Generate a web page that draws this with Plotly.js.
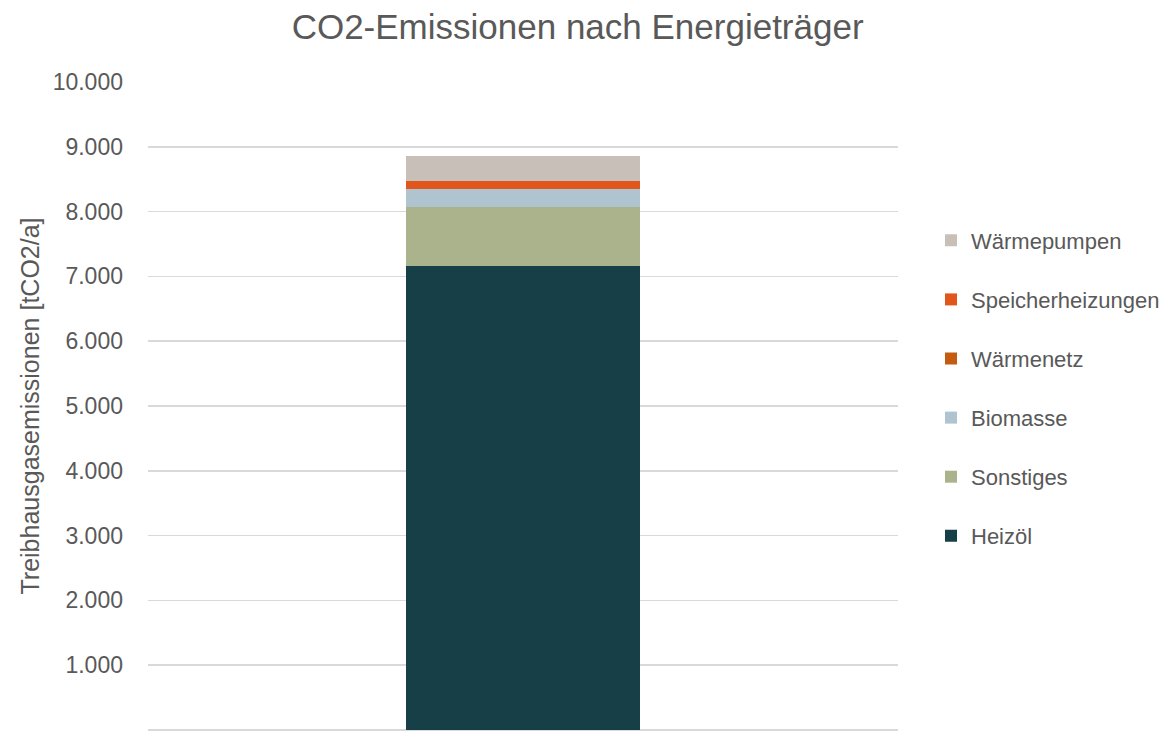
<!DOCTYPE html>
<html><head><meta charset="utf-8">
<script src="https://cdn.plot.ly/plotly-3.0.1.min.js"></script>
<style>html,body{margin:0;padding:0;background:#fff}#chart{width:1174px;height:731px}</style>
</head><body><div id="chart"></div>
<script>
const categories = ["Gesamt"];
const seriesNames = ["Heizöl", "Sonstiges", "Biomasse", "Wärmenetz", "Speicherheizungen", "Wärmepumpen"];
const heizoel = [7160];
const sonstiges = [910];
const biomasse = [275];
const waermenetz = [0];
const speicherheizungen = [125];
const waermepumpen = [395];
const seriesValues = [heizoel, sonstiges, biomasse, waermenetz, speicherheizungen, waermepumpen];
const colors = ["#173F48", "#ABB38D", "#B0C4CF", "#C55A11", "#E0561B", "#C9BFB9"];
const yTicks = [0, 1000, 2000, 3000, 4000, 5000, 6000, 7000, 8000, 9000, 10000];

const traces = seriesNames.map((n, i) => ({
  type: 'bar', name: n, x: categories, y: seriesValues[i],
  marker: {color: colors[i], line: {width: 0}},
  width: 0.313, legendgroup: 'g' + i, legendrank: 100 - i, hoverinfo: 'y+name'
}));

const font = "'Liberation Sans', Arial, sans-serif";
const layout = {
  width: 1174, height: 731,
  barmode: 'stack',
  separators: ',.',
  margin: {l: 148, r: 276, t: 82, b: 1},
  paper_bgcolor: '#fff', plot_bgcolor: '#fff',
  font: {family: font, color: '#595959', size: 20},
  title: {text: 'CO2-Emissionen nach Energieträger', x: 0.492, xanchor: 'center', y: 0.963, yanchor: 'middle',
          font: {size: 35, color: '#595959', family: font}},
  xaxis: {showticklabels: false, showgrid: false, zeroline: false, showline: false, range: [-0.5, 0.5]},
  yaxis: {range: [0, 10000], tickvals: yTicks, tickformat: ',d', showgrid: true, gridcolor: '#D9D9D9', gridwidth: 1.6,
          zeroline: true, zerolinecolor: '#D9D9D9', zerolinewidth: 1.6, showline: false, ticks: '',
          ticklabelstandoff: 24, tickfont: {size: 23, color: '#595959'},
          title: {text: 'Treibhausgasemissionen [tCO2/a]', standoff: 5, font: {size: 25, color: '#595959'}}},
  legend: {x: 1.044, xanchor: 'left', y: 0.527, yanchor: 'middle', traceorder: 'grouped', tracegroupgap: 27.5,
           font: {size: 22, color: '#595959'}, itemwidth: 30, bgcolor: 'rgba(0,0,0,0)'},
  showlegend: true
};
Plotly.newPlot('chart', traces, layout, {displayModeBar: false, staticPlot: true});
</script></body></html>
